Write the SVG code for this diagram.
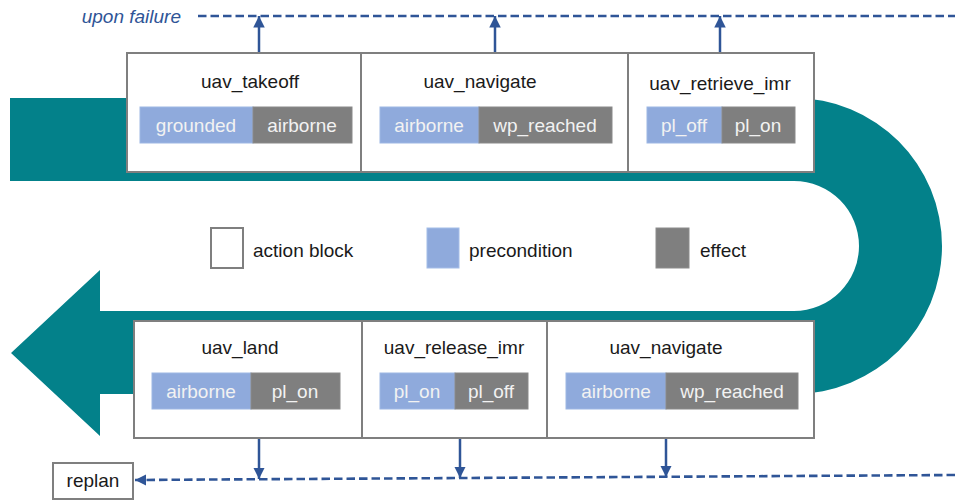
<svg xmlns="http://www.w3.org/2000/svg" width="955" height="500" viewBox="0 0 955 500">
  <defs>
    <style>
      .block { fill: #ffffff; stroke: #7f7f7f; stroke-width: 2; }
      .pre { fill: #8faadc; stroke: #9db7e4; stroke-width: 1; }
      .eff { fill: #7f7f7f; stroke: #8a8a8a; stroke-width: 1; }
      .title { font-family: "Liberation Sans", Arial, sans-serif; font-size: 19px; fill: #1a1a1a; text-anchor: middle; }
      .pill { font-family: "Liberation Sans", Arial, sans-serif; font-size: 19px; fill: #f2f2f2; text-anchor: middle; }
      .legend { font-family: "Liberation Sans", Arial, sans-serif; font-size: 19px; fill: #1a1a1a; }
      .flow { fill: none; stroke: #2f5597; stroke-width: 2.5; }
      .dash { fill: none; stroke: #2f5597; stroke-width: 2.6; stroke-dasharray: 8.5 4; }
    </style>
    <marker id="head" viewBox="0 0 10 10" refX="10" refY="5" markerWidth="4.6" markerHeight="4.6" markerUnits="strokeWidth" orient="auto">
      <path d="M0,0 L10,5 L0,10 Z" fill="#2f5597"/>
    </marker>
    <marker id="headSmall" viewBox="0 0 10 10" refX="10" refY="5" markerWidth="4.4" markerHeight="4.4" markerUnits="strokeWidth" orient="auto">
      <path d="M0,0 L10,5 L0,10 Z" fill="#2f5597"/>
    </marker>
  </defs>

  <rect width="955" height="500" fill="#ffffff"/>

  <!-- U-turn flow band with arrowhead -->
  <path id="flow-band" fill="#03818a" d="M10,98 H794 A148,148 0 0 1 794,394 H100 V436 L11,353 L100,270 V311 H794 A65,65 0 0 0 794,181 H10 Z"/>

  <!-- failure / replan connectors -->
  <g id="connectors">
    <text x="181" y="23" class="legend" style="font-style:italic; fill:#2f5597; text-anchor:end">upon failure</text>
    <line class="dash" x1="198" y1="16" x2="955" y2="16"/>
    <line class="flow" x1="259" y1="53" x2="259" y2="16" marker-end="url(#head)"/>
    <line class="flow" x1="495" y1="53" x2="495" y2="16" marker-end="url(#head)"/>
    <line class="flow" x1="720" y1="53" x2="720" y2="16" marker-end="url(#head)"/>

    <line class="flow" x1="259" y1="438" x2="259" y2="479" marker-end="url(#head)"/>
    <line class="flow" x1="460" y1="438" x2="460" y2="478" marker-end="url(#head)"/>
    <line class="flow" x1="666" y1="438" x2="666" y2="477" marker-end="url(#head)"/>
    <line class="dash" x1="955" y1="475" x2="135" y2="480" marker-end="url(#headSmall)"/>
  </g>

  <!-- top row of action blocks -->
  <g id="uav_takeoff">
    <rect class="block" x="127" y="53" width="234" height="119"/>
    <text class="title" x="250" y="88">uav_takeoff</text>
    <rect class="pre" x="140" y="107" width="113" height="36"/>
    <rect class="eff" x="253" y="107" width="99" height="36"/>
    <text class="pill" x="196" y="132">grounded</text>
    <text class="pill" x="302" y="132">airborne</text>
  </g>

  <g id="uav_navigate_1">
    <rect class="block" x="361" y="53" width="267" height="119"/>
    <text class="title" x="480" y="88">uav_navigate</text>
    <rect class="pre" x="380" y="107" width="99" height="36"/>
    <rect class="eff" x="479" y="107" width="133" height="36"/>
    <text class="pill" x="429" y="132">airborne</text>
    <text class="pill" x="545" y="132">wp_reached</text>
  </g>

  <g id="uav_retrieve_imr">
    <rect class="block" x="628" y="53" width="186" height="119"/>
    <text class="title" x="720" y="90">uav_retrieve_imr</text>
    <rect class="pre" x="647" y="107" width="75" height="36"/>
    <rect class="eff" x="722" y="107" width="73" height="36"/>
    <text class="pill" x="684" y="132">pl_off</text>
    <text class="pill" x="758" y="132">pl_on</text>
  </g>

  <!-- legend -->
  <g id="legend">
    <rect x="211" y="228" width="32" height="40" fill="#ffffff" stroke="#7f7f7f" stroke-width="2"/>
    <text class="legend" x="253" y="257">action block</text>
    <rect x="427" y="228" width="32" height="40" fill="#8faadc" stroke="#a4bde8" stroke-width="1"/>
    <text class="legend" x="469" y="257">precondition</text>
    <rect x="656" y="228" width="33" height="40" fill="#7f7f7f" stroke="#8c8c8c" stroke-width="1"/>
    <text class="legend" x="700" y="257">effect</text>
  </g>

  <!-- bottom row of action blocks -->
  <g id="uav_land">
    <rect class="block" x="134" y="321" width="228" height="117"/>
    <text class="title" x="240" y="354">uav_land</text>
    <rect class="pre" x="152" y="373" width="99" height="36"/>
    <rect class="eff" x="251" y="373" width="89" height="36"/>
    <text class="pill" x="201" y="398">airborne</text>
    <text class="pill" x="295" y="398">pl_on</text>
  </g>

  <g id="uav_release_imr">
    <rect class="block" x="362" y="321" width="185" height="117"/>
    <text class="title" x="454" y="354">uav_release_imr</text>
    <rect class="pre" x="380" y="373" width="75" height="36"/>
    <rect class="eff" x="455" y="373" width="73" height="36"/>
    <text class="pill" x="417" y="398">pl_on</text>
    <text class="pill" x="491" y="398">pl_off</text>
  </g>

  <g id="uav_navigate_2">
    <rect class="block" x="547" y="321" width="267" height="117"/>
    <text class="title" x="666" y="354">uav_navigate</text>
    <rect class="pre" x="566" y="373" width="100" height="36"/>
    <rect class="eff" x="666" y="373" width="132" height="36"/>
    <text class="pill" x="616" y="398">airborne</text>
    <text class="pill" x="732" y="398">wp_reached</text>
  </g>

  <g id="replan">
    <rect x="53" y="463" width="80" height="36" fill="#ffffff" stroke="#7f7f7f" stroke-width="2"/>
    <text class="title" x="93" y="487">replan</text>
  </g>
</svg>
